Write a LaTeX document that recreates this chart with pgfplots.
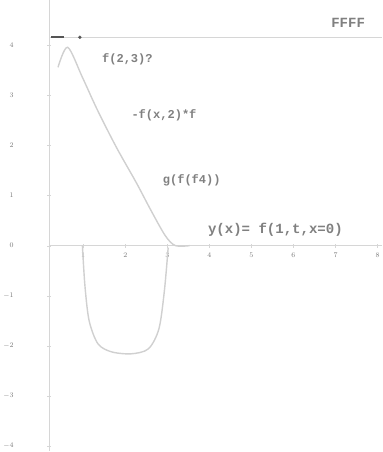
\documentclass[border=0pt]{standalone}
\usepackage{pgfplots}
\pgfplotsset{compat=1.18}
\usepackage{fontspec}
\setmonofont{Liberation Mono}
\definecolor{curve}{HTML}{D0D0D0}
\definecolor{axisgray}{HTML}{D6D6D6}
\definecolor{txt}{HTML}{555555}

\begin{document}
\begin{tikzpicture}
\begin{axis}[scale only axis,width=332pt,height=450pt,
 xmin=0.19,xmax=8.1,ymin=-4.1,ymax=4.9,
 axis x line=middle,axis y line=left,axis line style={axisgray,-},
 xtick={1,...,8},ytick={-4,...,4},
 tick style={axisgray},major tick length=4pt,
 tick label style={font=\scriptsize,text=txt!80},
 xticklabel style={yshift=-2pt},
 yticklabel style={xshift=-30pt},
 clip=false]
% horizontal reference line at the top
\addplot[axisgray,line width=0.8pt] coordinates {(0.19,4.16) (8.1,4.16)};
\addplot[txt,line width=2pt] coordinates {(0.24,4.16) (0.55,4.16)};
\addplot[only marks,mark=*,mark size=1.5pt,txt] coordinates {(0.92,4.16)};
% first curve
\addplot[curve,line width=1.4pt,smooth,tension=0.5] coordinates {
 (0.40,3.56) (0.63,3.96) (0.98,3.36) (1.33,2.72) (1.79,1.96) (2.26,1.26)
 (2.60,0.72) (2.95,0.20) (3.19,0.00) (3.53,0.00)};
% second curve
\addplot[curve,line width=1.4pt,smooth,tension=0.5] coordinates {
 (0.98,0.00) (1.04,-0.80) (1.14,-1.50) (1.35,-1.96) (1.67,-2.12) (2.14,-2.16)
 (2.55,-2.06) (2.80,-1.66) (2.93,-0.90) (3.02,-0.04)};
\node[font=\ttfamily\fontsize{12}{12}\selectfont\bfseries,text=txt!75] at (axis cs:2.05,3.72) {f(2,3)?};
\node[font=\ttfamily\fontsize{12}{12}\selectfont\bfseries,text=txt!75] at (axis cs:2.92,2.60) {-f(x,2)*f};
\node[font=\ttfamily\fontsize{12}{12}\selectfont\bfseries,text=txt!75] at (axis cs:3.58,1.30) {g(f(f4))};
\node[font=\ttfamily\fontsize{14}{14}\selectfont\bfseries,text=txt!75] at (axis cs:5.57,0.32) {y(x)= f(1,t,x=0)};
\node[font=\ttfamily\fontsize{14}{14}\selectfont\bfseries,text=txt!75] at (axis cs:7.30,4.45) {FFFF};
\end{axis}
\end{tikzpicture}
\end{document}
